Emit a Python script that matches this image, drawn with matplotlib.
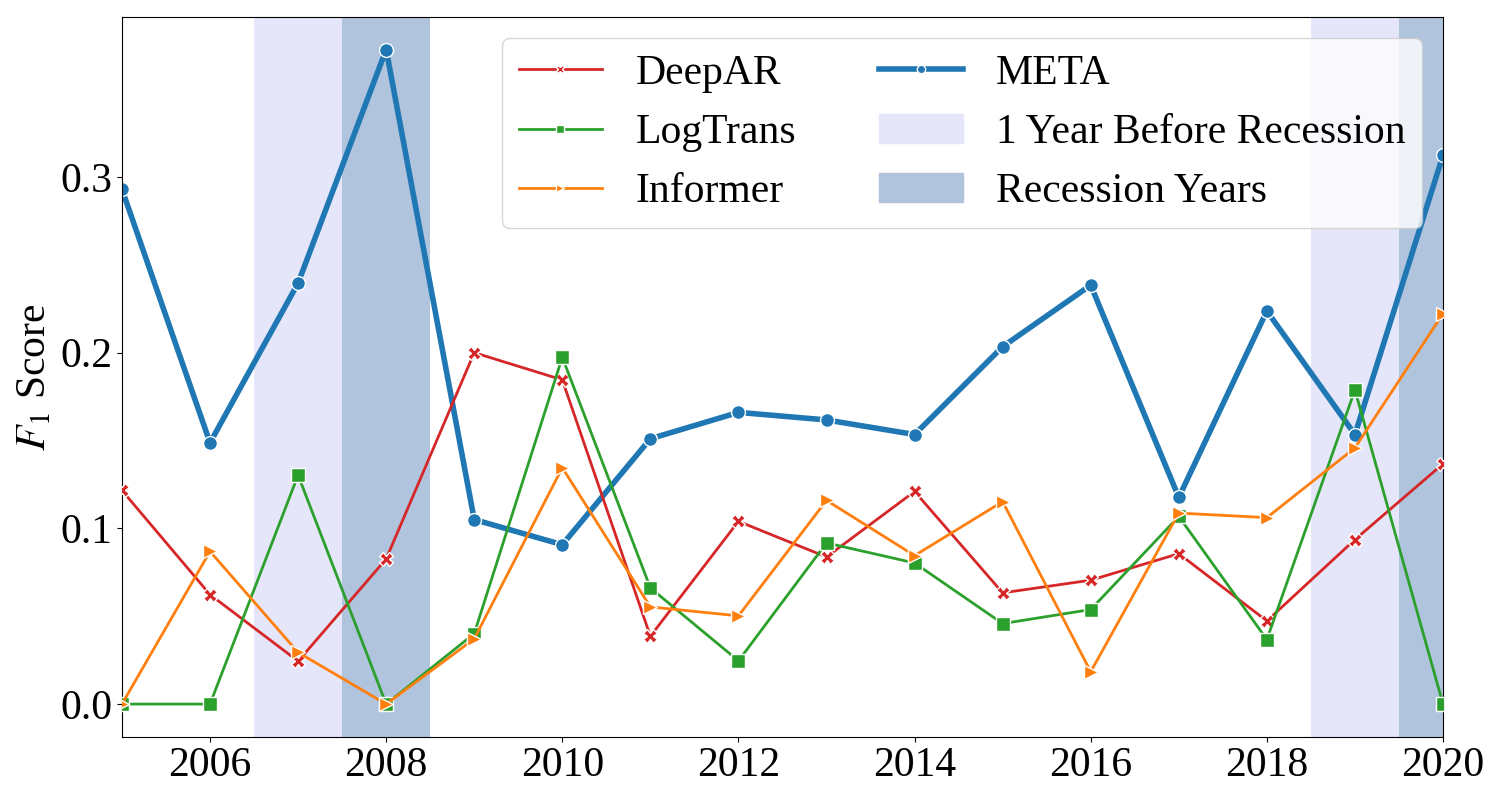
import matplotlib
matplotlib.use("Agg")
import matplotlib.pyplot as plt
from matplotlib.patches import Patch

plt.rcParams["font.family"] = ["Liberation Serif", "DejaVu Serif"]
plt.rcParams["mathtext.fontset"] = "stix"

years = list(range(2005, 2021))

deepar = [0.1216, 0.0623, 0.0244, 0.0826, 0.2000, 0.1845, 0.0386, 0.1040,
          0.0837, 0.1210, 0.0633, 0.0705, 0.0856, 0.0473, 0.0936, 0.1367]
logtrans = [0.0, 0.0, 0.1303, 0.0, 0.0401, 0.1974, 0.0661, 0.0246,
            0.0917, 0.0803, 0.0458, 0.0538, 0.1068, 0.0367, 0.1788, 0.0]
informer = [0.0, 0.0869, 0.0294, 0.0, 0.0371, 0.1345, 0.0553, 0.0502,
            0.1159, 0.0845, 0.1152, 0.0184, 0.1087, 0.1061, 0.1458, 0.2222]
meta = [0.2930, 0.1487, 0.2396, 0.3725, 0.1050, 0.0907, 0.1510, 0.1660,
        0.1617, 0.1534, 0.2034, 0.2384, 0.1176, 0.2237, 0.1534, 0.3123]

pre_recession_years = [2007, 2019]
recession_years = [2008, 2020]

fig, ax = plt.subplots(figsize=(15, 8), dpi=100)

for y in pre_recession_years:
    ax.axvspan(y - 0.5, y + 0.5, color="lavender", lw=0, zorder=0)
for y in recession_years:
    ax.axvspan(y - 0.5, y + 0.5, color="lightsteelblue", lw=0, zorder=0)

series = [
    ("DeepAR", deepar, "tab:red", "X", 2.0, 10),
    ("LogTrans", logtrans, "tab:green", "s", 2.0, 10),
    ("Informer", informer, "tab:orange", ">", 2.0, 10),
]
handles = []
for name, vals, col, mk, lw, ms in series:
    h, = ax.plot(years, vals, color=col, marker=mk, lw=lw, ms=ms,
                 mec="white", mew=1, label=name, zorder=3)
    handles.append(h)

h_meta, = ax.plot(years, meta, color="tab:blue", marker="o", lw=4, ms=10,
                  mec="white", mew=1, label="META", zorder=2)
handles.append(h_meta)
handles.append(Patch(color="lavender", label="1 Year Before Recession"))
handles.append(Patch(color="lightsteelblue", label="Recession Years"))

ax.set_xlim(2005, 2020)
ax.set_ylabel(r"$F_1$ Score", fontsize=30)
ax.set_yticks([0.0, 0.1, 0.2, 0.3])
ax.tick_params(labelsize=30)

leg = ax.legend(handles=handles, ncol=2, loc="upper right", fontsize=30)
for h in leg.legend_handles:
    if hasattr(h, "set_markersize"):
        h.set_markersize(6)

plt.subplots_adjust(left=0.0813, right=0.962, top=0.979, bottom=0.079)
plt.savefig("out.png")
